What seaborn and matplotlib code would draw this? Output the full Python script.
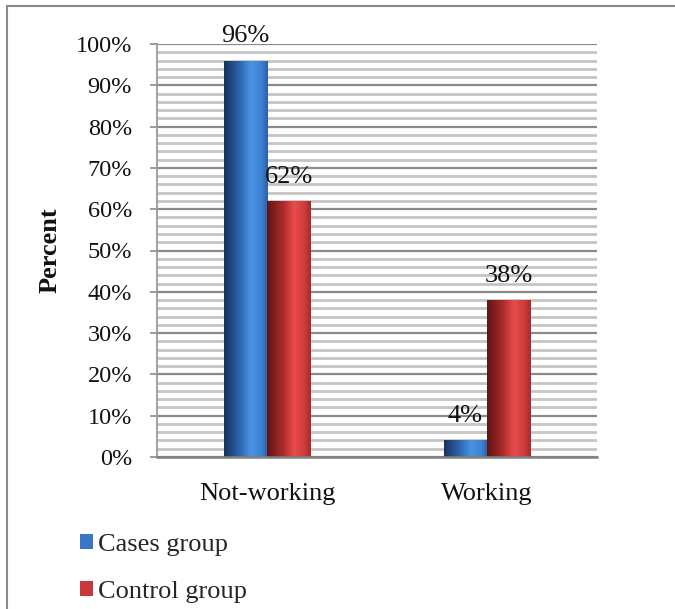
import numpy as np
import pandas as pd
import seaborn as sns
import matplotlib
matplotlib.use("Agg")
import matplotlib.pyplot as plt
from matplotlib.colors import LinearSegmentedColormap
from matplotlib.lines import Line2D
from matplotlib.patches import Patch
from matplotlib.ticker import MultipleLocator, FuncFormatter

# Employment status by group (percent)
categories = ["Not-working", "Working"]
groups = ["Cases group", "Control group"]
cases_values = [96, 4]
control_values = [62, 38]

df = pd.DataFrame({
    "status": categories * 2,
    "group": [groups[0]] * 2 + [groups[1]] * 2,
    "value": cases_values + control_values,
})

sns.set_theme(style="white")
plt.rcParams["font.family"] = ["Liberation Serif", "DejaVu Serif"]

W, H = 675, 609
fig = plt.figure(figsize=(W / 100, H / 100), dpi=100)
ax = fig.add_axes([157 / W, 1 - 457 / H, 440 / W, 413 / H])

base_colors = {"Cases group": "#3a76c6", "Control group": "#c8383a"}
sns.barplot(data=df, x="status", y="value", hue="group", order=categories,
            hue_order=groups, palette=base_colors, width=0.395, gap=0,
            saturation=1, ax=ax, legend=False, zorder=3, linewidth=0)

ax.set_ylim(0, 100)
ax.set_xlim(-0.5, 1.5)

# Gradient fills clipped to each bar (dark left edge, highlight right of center)
grad_maps = {
    "Cases group": LinearSegmentedColormap.from_list(
        "cases", [(0, "#16325a"), (0.35, "#2d64ad"), (0.62, "#4b93e6"),
                  (0.85, "#3f82d2"), (1, "#2a5fa5")]),
    "Control group": LinearSegmentedColormap.from_list(
        "control", [(0, "#5e1414"), (0.35, "#a82a2a"), (0.62, "#e84b4b"),
                    (0.85, "#cf3c3c"), (1, "#a52a2a")]),
}
grad = np.linspace(0, 1, 256).reshape(1, -1)
bars = list(ax.patches)
hue_of_bar = [groups[0]] * len(categories) + [groups[1]] * len(categories)
for patch, grp in zip(bars, hue_of_bar):
    x0, y0 = patch.get_x(), patch.get_y()
    w, h = patch.get_width(), patch.get_height()
    im = ax.imshow(grad, cmap=grad_maps[grp], aspect="auto",
                   extent=[x0, x0 + w, y0, y0 + h], zorder=4,
                   interpolation="bicubic")
    im.set_clip_path(patch)
    patch.set_facecolor("none")

# Value labels above the bars
for patch, val in zip(bars, cases_values + control_values):
    ax.annotate(f"{val}%", (patch.get_x() + patch.get_width() / 2, val),
                xytext=(0, 13), textcoords="offset points",
                ha="center", va="baseline", fontsize=19, color="#111111",
                zorder=6)

# Gridlines: major every 10 %, minor every 2 %
ax.yaxis.set_major_locator(MultipleLocator(10))
ax.yaxis.set_minor_locator(MultipleLocator(2))
ax.yaxis.set_major_formatter(FuncFormatter(lambda v, p: f"{v:.0f}%"))
ax.grid(axis="y", which="major", color="#8a8a8a", linewidth=1.6, zorder=0)
ax.grid(axis="y", which="minor", color="#c4c4c4", linewidth=2.0, zorder=0)
ax.grid(axis="x", visible=False)
ax.set_axisbelow(True)

for side in ("top", "right"):
    ax.spines[side].set_visible(False)
ax.spines["left"].set_color("#9a9a9a")
ax.spines["left"].set_linewidth(1.3)
ax.spines["bottom"].set_color("#808080")
ax.spines["bottom"].set_linewidth(1.8)
ax.spines["bottom"].set_zorder(5)

ax.tick_params(axis="y", which="major", left=True, length=5, width=1.2,
               color="#8a8a8a", pad=13, labelsize=17.5, labelcolor="#111111")
ax.tick_params(axis="y", which="minor", left=False)
ax.tick_params(axis="x", bottom=False, pad=13, labelsize=19,
               labelcolor="#111111")

ax.set_xlabel("")
ax.set_ylabel("Percent", fontsize=19, fontweight="bold", color="#111111")
ax.yaxis.set_label_coords(-0.217, 0.5)

# Legend below the plot, stacked vertically
handles = [Patch(facecolor=base_colors[g], edgecolor="none") for g in groups]
fig.legend(handles, groups, loc="upper left",
           bbox_to_anchor=(80 / W, 1 - 534 / H), frameon=False,
           fontsize=19, handlelength=0.5, handleheight=0.5,
           handletextpad=0.2, labelspacing=0.95, borderaxespad=0,
           borderpad=0)

# Frame lines of the surrounding box
border = "#8a8a8a"
fig.add_artist(Line2D([7 / W, 7 / W], [0, 1 - 6 / H], color=border,
                      linewidth=1.5, transform=fig.transFigure))
fig.add_artist(Line2D([7 / W, 1], [1 - 6 / H, 1 - 6 / H], color=border,
                      linewidth=1.5, transform=fig.transFigure))

fig.savefig("out.png", dpi=100)
